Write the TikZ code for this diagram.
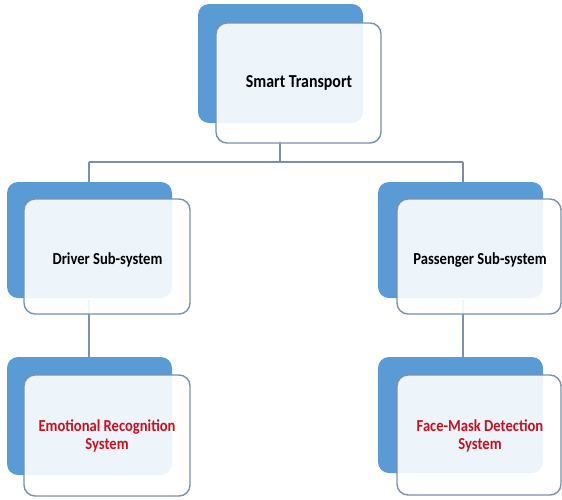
\documentclass[tikz,border=0pt]{standalone}
\usepackage{fontspec}
\setmainfont{Carlito}
\definecolor{backblue}{HTML}{5B9BD5}
\definecolor{edgeblue}{HTML}{7A90AC}
\definecolor{txtred}{HTML}{CC1020}
\tikzset{
  backbox/.style={fill=backblue, rounded corners=11pt},
  frontbox/.style={draw=edgeblue, line width=1.4pt, fill=white, fill opacity=0.9, rounded corners=11pt},
  conn/.style={draw=edgeblue, line width=1.4pt},
  lbl/.style={font=\fontsize{14.6}{15.8}\selectfont\bfseries, align=center, inner sep=0pt, yscale=1.15, transform shape},
  redlbl/.style={lbl, text=txtred}
}
\begin{document}
\begin{tikzpicture}[x=1pt,y=-1pt]
\useasboundingbox (0,0) rectangle (562,499);
% connector coordinates
\coordinate (bl) at (89,162);
\coordinate (br) at (463,162);
\coordinate (bm) at (280,162);
% connectors
\draw[conn] (280,140) coordinate (tbot) -- (bm);
\draw[conn] (bl) -- (br);
\draw[conn] (bl) -- (89,190) coordinate (l2top);
\draw[conn] (br) -- (463,190) coordinate (r2top);
\draw[conn] (89,300) coordinate (l2bot) -- (89,365) coordinate (l3top);
\draw[conn] (463,300) coordinate (r2bot) -- (463,365) coordinate (r3top);
% top
\path[backbox] (198,4) rectangle (363,123);
\path[frontbox] (216,23) rectangle (381,143);
\node[lbl, font=\fontsize{15.9}{18}\selectfont\bfseries] (top) at (299,83) {Smart Transport};
% left level 2
\path[backbox] (7,182) rectangle (172,298);
\path[frontbox] (24,199) rectangle (190,314);
\node[lbl] (drv) at (107.5,260) {Driver Sub-system};
% right level 2
\path[backbox] (378,182) rectangle (543,298);
\path[frontbox] (397,199) rectangle (561,314);
\node[lbl] (pas) at (480,260) {Passenger Sub-system};
% left level 3
\path[backbox] (7,357) rectangle (172,475);
\path[frontbox] (24,375) rectangle (190,496);
\node[redlbl] (emo) at (107,436) {Emotional Recognition\\System};
% right level 3
\path[backbox] (378,357) rectangle (543,473);
\path[frontbox] (397,375) rectangle (561,495);
\node[redlbl] (face) at (480,436) {Face-Mask Detection\\System};
\end{tikzpicture}
\end{document}
